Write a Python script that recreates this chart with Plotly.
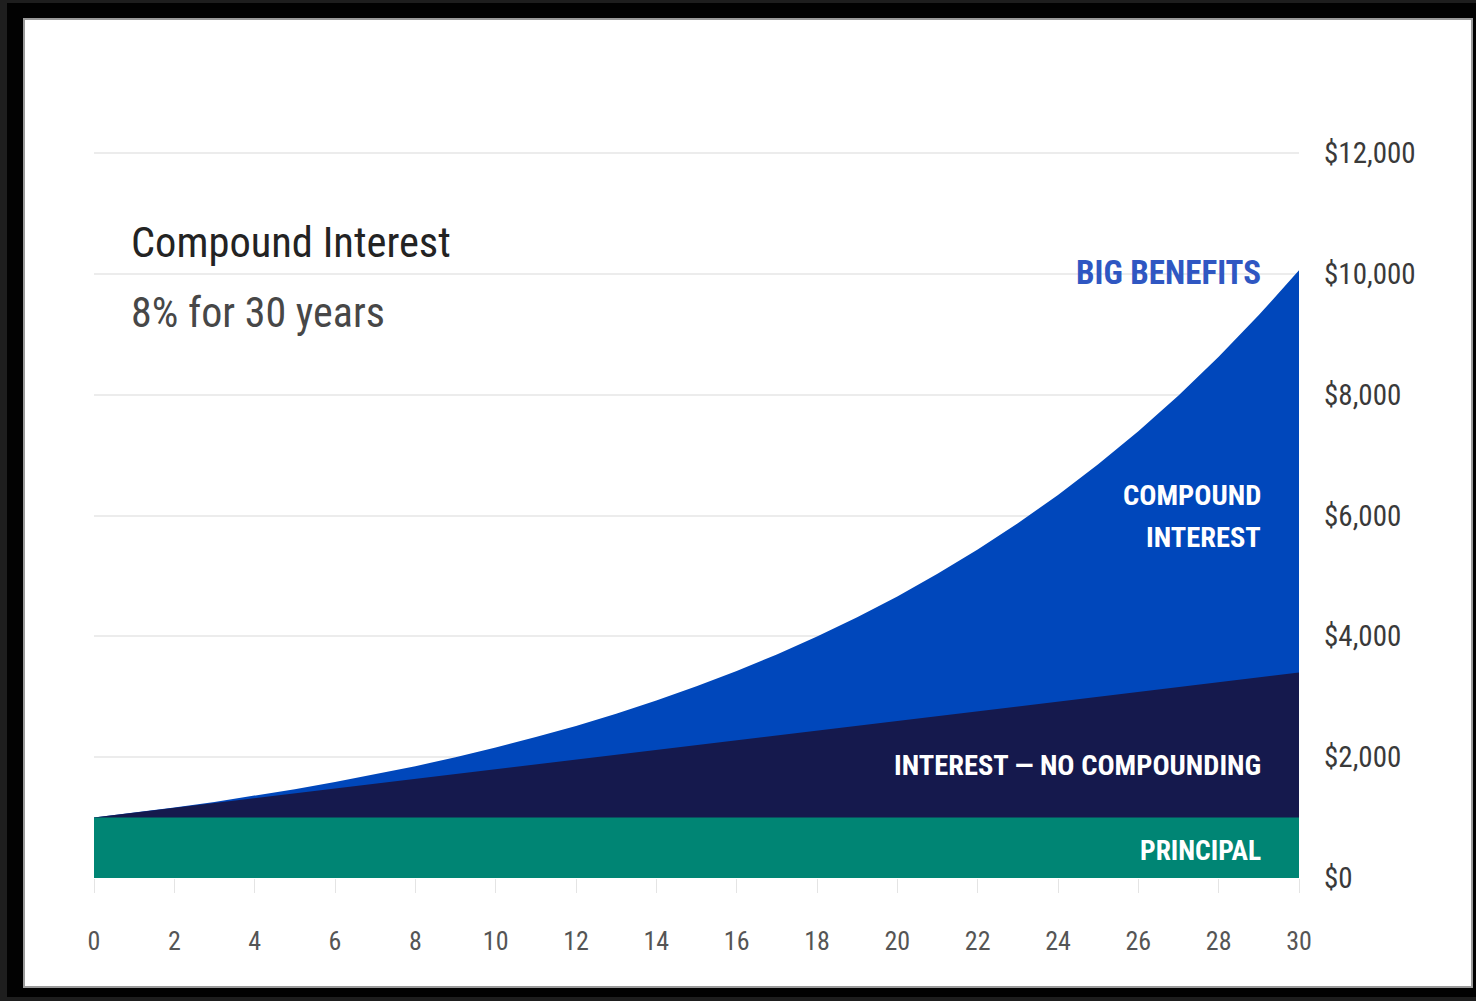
import plotly.graph_objects as go

W, H = 1476, 1001
L, R, T, B = 94, 177, 150, 123
PW, PH = W - L - R, H - T - B

def px(x):
    return (x - L) / PW

def py(y):
    return (H - B - y) / PH

years = list(range(0, 31))
principal = [1000] * 31
simple_total = [1000, 1080, 1160, 1240, 1320, 1400, 1480, 1560, 1640, 1720, 1800,
                1880, 1960, 2040, 2120, 2200, 2280, 2360, 2440, 2520, 2600,
                2680, 2760, 2840, 2920, 3000, 3080, 3160, 3240, 3320, 3400]
compound_total = [1000, 1080, 1166, 1260, 1360, 1469, 1587, 1714, 1851, 1999, 2159,
                  2332, 2518, 2720, 2937, 3172, 3426, 3700, 3996, 4316, 4661,
                  5034, 5437, 5871, 6341, 6848, 7396, 7988, 8627, 9317, 10060]
x_ticks = list(range(0, 31, 2))
y_ticks = list(range(0, 12001, 2000))
y_tick_text = ["$0", "$2,000", "$4,000", "$6,000", "$8,000", "$10,000", "$12,000"]

FONT = "Roboto Condensed, DejaVu Sans Condensed, Roboto, sans-serif"

fig = go.Figure()
fig.add_trace(go.Scatter(x=years, y=compound_total, mode="lines", line=dict(width=0, color="#0047bb"),
                         fill="tozeroy", fillcolor="#0047bb", hoverinfo="skip"))
fig.add_trace(go.Scatter(x=years, y=simple_total, mode="lines", line=dict(width=0, color="#15194d"),
                         fill="tozeroy", fillcolor="#15194d", hoverinfo="skip"))
fig.add_trace(go.Scatter(x=years, y=principal, mode="lines", line=dict(width=0, color="#008574"),
                         fill="tozeroy", fillcolor="#008574", hoverinfo="skip"))

shapes = [
    dict(type="rect", xref="paper", yref="paper", x0=px(7), x1=px(1476), y0=py(997), y1=py(3),
         fillcolor="#020202", line=dict(width=0), layer="below"),
    dict(type="rect", xref="paper", yref="paper", x0=px(24), x1=px(1472), y0=py(987), y1=py(19),
         fillcolor="#ffffff", line=dict(width=2, color="#9a9a9a"), layer="below"),
]

ann = []
def add(text, x, y, size, color, xanchor="left", bold=False):
    ann.append(dict(text=("<b>%s</b>" % text) if bold else text, x=px(x), y=py(y), xref="paper", yref="paper",
                    xanchor=xanchor, yanchor="middle", showarrow=False,
                    font=dict(size=size, color=color, family=FONT)))

add("Compound Interest", 129, 242, 42.5, "#232323")
add("8% for 30 years", 129, 312, 42, "#474747")
add("BIG BENEFITS", 1263, 272, 33, "#2f57c2", xanchor="right", bold=True)
add("COMPOUND", 1263, 495, 28.5, "#ffffff", xanchor="right", bold=True)
add("INTEREST", 1263, 537, 28.5, "#ffffff", xanchor="right", bold=True)
add("INTEREST — NO COMPOUNDING", 1263, 765, 28.5, "#ffffff", xanchor="right", bold=True)
add("PRINCIPAL", 1263, 850, 27.5, "#ffffff", xanchor="right", bold=True)

fig.update_layout(
    width=W, height=H, margin=dict(l=L, r=R, t=T, b=B, pad=0),
    paper_bgcolor="#1e1e1e", plot_bgcolor="rgba(0,0,0,0)", showlegend=False,
    shapes=shapes, annotations=ann,
    xaxis=dict(range=[0, 30], tickvals=x_ticks, showgrid=False, zeroline=False, showline=False,
               ticks="outside", ticklen=14, tickwidth=1, tickcolor="#e4e4e4",
               tickfont=dict(size=26, color="#555555", family=FONT), ticklabelstandoff=26),
    yaxis=dict(range=[0, 12050], tickvals=y_ticks, ticktext=y_tick_text, side="right",
               showgrid=True, gridcolor="#ececec", gridwidth=2, zeroline=False, showline=False, ticks="",
               tickfont=dict(size=29, color="#3a3a3a", family=FONT), ticklabelstandoff=24),
)

fig.write_html("out.html")
